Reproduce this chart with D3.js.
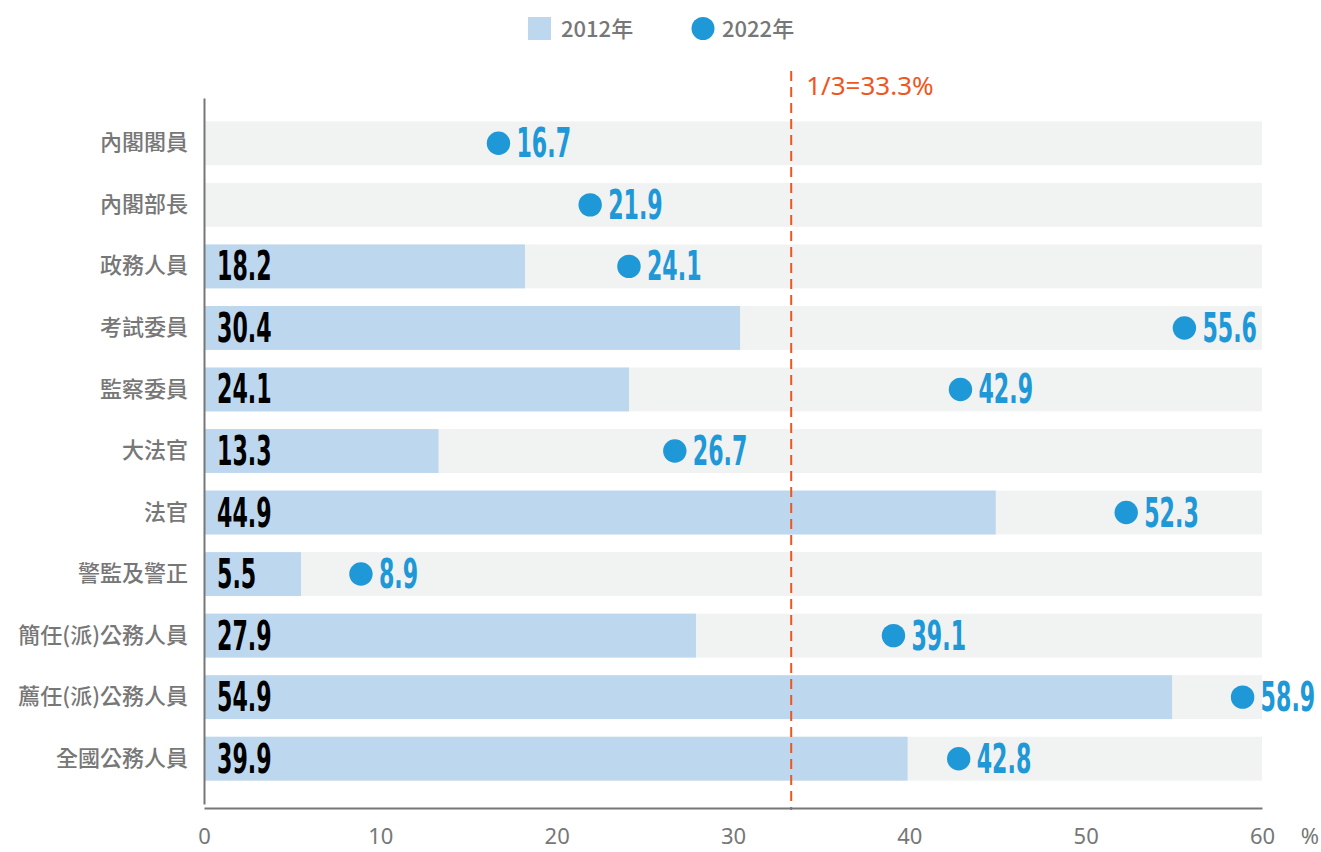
<!DOCTYPE html>
<html>
<head>
<meta charset="utf-8">
<script src="https://cdn.jsdelivr.net/npm/d3@7"></script>
<style>
  body { margin: 0; background: #fff; }
  svg { display: block; }
  .num { font-family: "Liberation Sans Narrow", "DejaVu Sans Condensed", sans-serif; font-weight: bold; }
</style>
</head>
<body>
<svg width="1321" height="852"></svg>
<script>
var categories = ["內閣閣員", "內閣部長", "政務人員", "考試委員", "監察委員", "大法官", "法官", "警監及警正", "簡任(派)公務人員", "薦任(派)公務人員", "全國公務人員"],
    values2012 = [null, null, 18.2, 30.4, 24.1, 13.3, 44.9, 5.5, 27.9, 54.9, 39.9],
    values2022 = [16.7, 21.9, 24.1, 55.6, 42.9, 26.7, 52.3, 8.9, 39.1, 58.9, 42.8],
    xTicks = [0, 10, 20, 30, 40, 50, 60],
    refValue = 33.3,
    refLabel = "1/3=33.3%";

var barColor = "#bdd7ee",
    dotColor = "#1e98d6",
    bgColor = "#f1f2f2",
    refColor = "#f0561d",
    grey = "#777";

var svg = d3.select("svg"),
    margin = {top: 98, right: 59, bottom: 44, left: 204},
    width = +svg.attr("width") - margin.left - margin.right,
    height = +svg.attr("height") - margin.top - margin.bottom;

var data = categories.map(function(c, i) {
  return {name: c, v1: values2012[i], v2: values2022[i]};
});

var x = d3.scaleLinear().domain([0, 60]).range([0, width]);
var y = d3.scaleBand().domain(categories).range([0, height - 4]).paddingInner(0.287).paddingOuter(0.38);

var numScale = 0.6;

var g = svg.append("g")
    .attr("transform", "translate(" + margin.left + "," + margin.top + ")");

// background bars
g.selectAll(".bg")
  .data(data)
  .enter().append("rect")
    .attr("x", x(0))
    .attr("y", function(d) { return y(d.name); })
    .attr("width", x(60) - x(0))
    .attr("height", y.bandwidth())
    .attr("fill", bgColor);

// 2012 bars
var withBar = data.filter(function(d) { return d.v1 != null; });
g.selectAll(".bar")
  .data(withBar)
  .enter().append("rect")
    .attr("class", "bar")
    .attr("x", x(0))
    .attr("y", function(d) { return y(d.name); })
    .attr("width", function(d) { return x(d.v1) - x(0); })
    .attr("height", y.bandwidth())
    .attr("fill", barColor);

g.selectAll(".barlabel")
  .data(withBar)
  .enter().append("text")
    .attr("class", "num")
    .attr("transform", function(d) {
      return "translate(" + (x(0) + 13) + "," + (y(d.name) + y.bandwidth() / 2 + 14) + ") scale(" + numScale + ",1)";
    })
    .attr("font-size", 41)
    .attr("fill", "#000")
    .text(function(d) { return d.v1.toFixed(1); });

// reference line
g.append("line")
    .attr("x1", x(refValue)).attr("x2", x(refValue))
    .attr("y1", -27).attr("y2", height + 2)
    .attr("stroke", refColor)
    .attr("stroke-width", 2)
    .attr("stroke-dasharray", "10,6");
g.append("text")
    .attr("x", x(refValue) + 15)
    .attr("y", -3)
    .attr("font-family", "'Noto Sans', sans-serif")
    .attr("font-size", 26)
    .attr("fill", refColor)
    .text(refLabel);

// 2022 dots
g.selectAll(".dot")
  .data(data)
  .enter().append("circle")
    .attr("cx", function(d) { return x(d.v2); })
    .attr("cy", function(d) { return y(d.name) + y.bandwidth() / 2; })
    .attr("r", 11.7)
    .attr("fill", dotColor);

g.selectAll(".dotlabel")
  .data(data)
  .enter().append("text")
    .attr("class", "num")
    .attr("transform", function(d) {
      return "translate(" + (x(d.v2) + 18) + "," + (y(d.name) + y.bandwidth() / 2 + 14) + ") scale(" + numScale + ",1)";
    })
    .attr("font-size", 41)
    .attr("fill", dotColor)
    .text(function(d) { return d.v2.toFixed(1); });

// axes
var xAxis = g.append("g")
    .attr("transform", "translate(0," + height + ")")
    .call(d3.axisBottom(x).tickValues(xTicks).tickSize(0).tickPadding(20));
xAxis.select(".domain").attr("stroke", grey).attr("stroke-width", 2);
xAxis.selectAll("text")
    .attr("font-family", "'Noto Sans', sans-serif")
    .attr("font-size", 22)
    .attr("fill", grey);

svg.append("text")
    .attr("x", margin.left + width + 48)
    .attr("y", margin.top + height + 36)
    .attr("text-anchor", "middle")
    .attr("font-family", "'Noto Sans', sans-serif")
    .attr("font-size", 22)
    .attr("fill", grey)
    .text("%");

var yAxis = g.append("g")
    .call(d3.axisLeft(y).tickSize(0).tickPadding(16));
yAxis.select(".domain").attr("stroke", grey).attr("stroke-width", 2);
yAxis.selectAll("text")
    .attr("font-family", "'Noto Sans CJK TC', sans-serif")
    .attr("font-weight", 500)
    .attr("font-size", 22)
    .attr("fill", grey);

// legend
var legend = svg.append("g").attr("transform", "translate(528,17)");
legend.append("rect")
    .attr("width", 23).attr("height", 23)
    .attr("fill", barColor);
legend.append("text")
    .attr("x", 33).attr("y", 20)
    .attr("font-family", "'Noto Sans CJK TC', sans-serif")
    .attr("font-weight", 500)
    .attr("font-size", 22)
    .attr("fill", grey)
    .text("2012年");
legend.append("circle")
    .attr("cx", 175).attr("cy", 11.5).attr("r", 11.5)
    .attr("fill", dotColor);
legend.append("text")
    .attr("x", 194).attr("y", 20)
    .attr("font-family", "'Noto Sans CJK TC', sans-serif")
    .attr("font-weight", 500)
    .attr("font-size", 22)
    .attr("fill", grey)
    .text("2022年");
</script>
</body>
</html>
